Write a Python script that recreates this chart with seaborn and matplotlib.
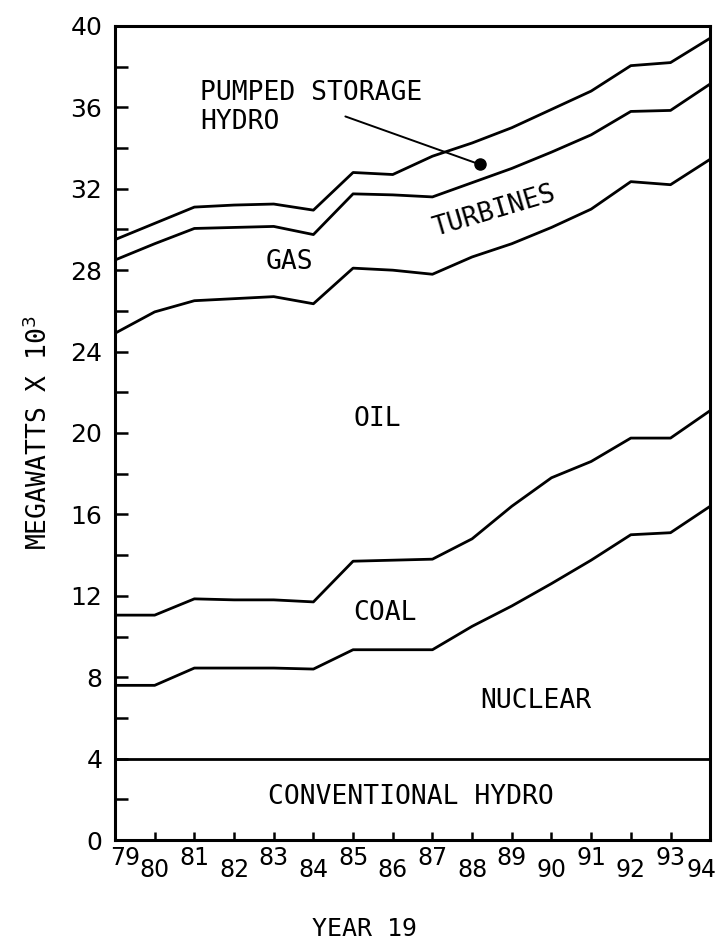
import pandas as pd
import seaborn as sns
import matplotlib.pyplot as plt
from matplotlib.ticker import MultipleLocator
from matplotlib.transforms import ScaledTranslation

years = [79, 80, 81, 82, 83, 84, 85, 86, 87, 88, 89, 90, 91, 92, 93, 94]

# cumulative boundary of each layer, megawatts x 10^3
conventional_hydro = [4.0, 4.0, 4.0, 4.0, 4.0, 4.0, 4.0, 4.0, 4.0, 4.0, 4.0, 4.0, 4.0, 4.0, 4.0, 4.0]
nuclear = [7.6, 7.6, 8.45, 8.45, 8.45, 8.4, 9.35, 9.35, 9.35, 10.5, 11.5, 12.6, 13.75, 15.0, 15.1, 16.4]
coal = [11.05, 11.05, 11.85, 11.8, 11.8, 11.7, 13.7, 13.75, 13.8, 14.8, 16.4, 17.8, 18.6, 19.75, 19.75, 21.1]
oil = [24.9, 25.95, 26.5, 26.6, 26.7, 26.35, 28.1, 28.0, 27.8, 28.65, 29.3, 30.1, 31.0, 32.35, 32.2, 33.45]
gas_turbines = [28.5, 29.3, 30.05, 30.1, 30.15, 29.75, 31.75, 31.7, 31.6, 32.3, 33.0, 33.8, 34.65, 35.8, 35.85, 37.15]
pumped_storage = [29.5, 30.3, 31.1, 31.2, 31.25, 30.95, 32.8, 32.7, 33.6, 34.25, 35.0, 35.9, 36.8, 38.05, 38.2, 39.4]

layers = {
    "conventional hydro": conventional_hydro,
    "nuclear": nuclear,
    "coal": coal,
    "oil": oil,
    "gas turbines": gas_turbines,
    "pumped storage": pumped_storage,
}

df = pd.DataFrame(
    {
        "year": years * len(layers),
        "mw": sum(layers.values(), []),
        "layer": [name for name in layers for _ in years],
    }
)

# labels: (text, x, y, rotation)
area_labels = [
    ("GAS", 83.4, 28.4, 0),
    ("TURBINES", 88.55, 30.9, 16.5),
    ("OIL", 85.6, 20.7, 0),
    ("COAL", 85.8, 11.15, 0),
    ("NUCLEAR", 89.6, 6.85, 0),
    ("CONVENTIONAL HYDRO", 86.45, 2.1, 0),
]
pumped_text_pos = (81.15, 36.0)
pointer_start = (84.74, 35.6)
pointer_tip = (88.19, 33.2)

# the year labels on the original sit a bit off their ticks at the ends
label_shift_px = {79: 10, 94: -9}

sns.set_theme(style="white")
plt.rcParams["font.family"] = ["DejaVu Sans"]
mono = "DejaVu Sans Mono"

fig, ax = plt.subplots(figsize=(7.21, 9.51), dpi=100)
fig.subplots_adjust(left=0.1595, right=0.985, top=0.9727, bottom=0.1167)

sns.lineplot(
    data=df,
    x="year",
    y="mw",
    hue="layer",
    palette={name: "black" for name in layers},
    linewidth=2.0,
    errorbar=None,
    legend=False,
    ax=ax,
)

ax.set_xlim(79, 94)
ax.set_ylim(0, 40)
ax.set_yticks(range(0, 41, 4))
ax.yaxis.set_minor_locator(MultipleLocator(2))
ax.set_xticks(years)
ax.set_xticklabels([str(y) for y in years])

for side in ["left", "right", "top", "bottom"]:
    ax.spines[side].set_visible(True)
    ax.spines[side].set_color("black")
    ax.spines[side].set_linewidth(2.2)

ax.tick_params(axis="y", which="both", direction="in", length=9, width=1.8,
               left=True, colors="black", labelsize=18, pad=9)
ax.tick_params(axis="x", which="major", direction="in", length=6, width=1.8,
               bottom=True, colors="black", labelsize=17)

# staggered year labels
for i, tick in enumerate(ax.xaxis.get_major_ticks()):
    tick.set_pad(4 if years[i] % 2 == 1 else 13)
    dx = label_shift_px.get(years[i], 0)
    if dx:
        tick.label1.set_transform(
            tick.label1.get_transform() + ScaledTranslation(dx / 100, 0, fig.dpi_scale_trans)
        )

for text, x, y, rot in area_labels:
    ax.text(x, y, text, ha="center", va="center", rotation=rot,
            family=mono, fontsize=19, color="black", rotation_mode="anchor")

ax.text(*pumped_text_pos, "PUMPED STORAGE\nHYDRO", ha="left", va="center",
        family=mono, fontsize=19, linespacing=1.15, color="black")
ax.annotate("", xy=pointer_tip, xytext=pointer_start,
            arrowprops=dict(arrowstyle="-", lw=1.4, color="black"))
ax.plot(*pointer_tip, marker="o", markersize=8, color="black")

ax.set_ylabel("MEGAWATTS X 10$^3$", family=mono, fontsize=19, color="black")
ax.yaxis.set_label_coords(-0.105, 0.5)
ax.set_xlabel("YEAR 19", family=mono, fontsize=18, color="black")
ax.xaxis.set_label_coords(0.42, -0.095)

fig.savefig("out.png", dpi=100)
